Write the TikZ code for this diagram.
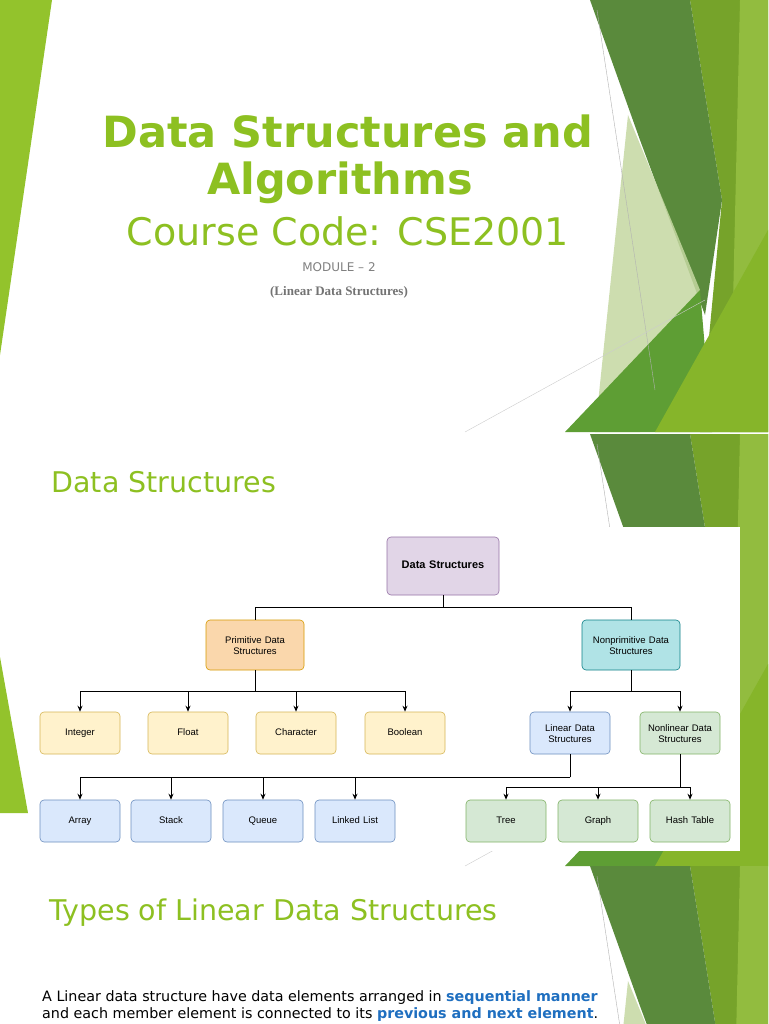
\documentclass[tikz,border=0pt]{standalone}
\usepackage{fontspec}
\setmainfont{DejaVu Sans}
\newfontfamily\boxfont{Liberation Sans}
\newfontfamily\serifb{Liberation Serif}
\usetikzlibrary{arrows.meta}
\definecolor{ttl}{HTML}{8DC021}
\definecolor{dkg}{HTML}{5A8A3C}
\definecolor{olv}{HTML}{76A32A}
\definecolor{lim}{HTML}{86B52A}
\definecolor{mdg}{HTML}{5E9E34}
\definecolor{lgt}{HTML}{C5D8A2}
\definecolor{bluet}{HTML}{1F6FC0}
\tikzset{
 bx/.style={draw=#1, rounded corners=4pt, line width=0.6pt, minimum height=42pt, text width=78pt, align=center, font=\boxfont\fontsize{9.5}{11}\selectfont, inner sep=1pt, execute at begin node=\strut},
 ds/.style={bx=#1, minimum height=58pt, text width=110pt},
 mid/.style={bx=#1, minimum height=50pt, text width=96pt},
 ln/.style={draw=black, line width=0.9pt},
 ar/.style={ln, -{Stealth[length=6pt,width=5pt]}},
}
\newcommand{\slidedeco}[1]{%
 \begin{scope}[shift={(0,#1)}]
  \clip (0,0) rectangle (768,432);
  \fill[olv] (690,0) -- (768,0) -- (768,432) -- (700,432) -- (722,200) -- cycle;
  \fill[lim!90!white] (740,0) -- (768,0) -- (768,432) -- (730,432) -- cycle;
  \fill[dkg] (590,0) -- (690,0) -- (722,200) -- (705,315) -- (640,140) -- cycle;
  \fill[lgt, opacity=0.85] (628,115) -- (700,290) -- (640,432) -- (595,432) -- cycle;
  \fill[mdg] (565,432) -- (700,290) -- (712,432) -- cycle;
  \fill[lim] (655,432) -- (768,230) -- (768,432) -- cycle;
  \draw[gray!60, line width=0.4pt] (597,10) -- (655,390);
  \draw[gray!40, line width=0.4pt] (465,432) -- (705,300);
 \end{scope}}
\begin{document}
\begin{tikzpicture}[x=1pt,y=-1pt]
\fill[white] (0,0) rectangle (768,1024);
\useasboundingbox (0,0) rectangle (768,1024);
\slidedeco{0}
\fill[ttl!95!white] (0,0) -- (52,0) -- (0,355) -- cycle;
\slidedeco{434}
\begin{scope}
\clip (0,866) rectangle (768,1024);
\slidedeco{866}
\end{scope}
% slide 1 text
\node[text=ttl, font=\bfseries\fontsize{43}{47}\selectfont] (t1) at (348,131) {Data Structures and};
\node[text=ttl, font=\bfseries\fontsize{43}{47}\selectfont] (t2) at (340,183) {Algorithms};
\node[text=ttl, font=\fontsize{38}{42}\selectfont] (t3) at (348,231) {Course Code: CSE2001};
\node[text=gray, font=\fontsize{12}{14}\selectfont] (t4) at (339,267) {MODULE – 2};
\node[text=gray!90!black, font=\serifb\bfseries\fontsize{13}{15}\selectfont] (t5) at (339,292) {(Linear Data Structures)};
% slide 2
\node[text=ttl, font=\fontsize{28.5}{32}\selectfont, anchor=west] (h2) at (48,482) {Data Structures};
\fill[white] (5,527) rectangle (740,851);
\fill[ttl!95!white] (0,657) -- (28,813) -- (0,813) -- cycle;
\definecolor{dsf}{HTML}{E1D5E7}\definecolor{dsd}{HTML}{9673A6}
\definecolor{prf}{HTML}{FAD7AC}\definecolor{prd}{HTML}{D79B00}
\definecolor{npf}{HTML}{B0E3E6}\definecolor{npd}{HTML}{0E8088}
\definecolor{yef}{HTML}{FFF2CC}\definecolor{yed}{HTML}{D6B656}
\definecolor{blf}{HTML}{DAE8FC}\definecolor{bld}{HTML}{6C8EBF}
\definecolor{grf}{HTML}{D5E8D4}\definecolor{grd}{HTML}{82B366}
\node[ds=dsd, fill=dsf, font=\boxfont\bfseries\fontsize{11}{12}\selectfont] (ds) at (443,566) {Data Structures};
\node[mid=prd, fill=prf] (pr) at (255,645) {Primitive Data\\Structures};
\node[mid=npd, fill=npf] (np) at (631,645) {Nonprimitive Data\\Structures};
\tikzset{yel/.style={bx=yed, fill=yef}, blu/.style={bx=bld, fill=blf}, grn/.style={bx=grd, fill=grf}}
\node[yel] (i) at (80,733) {Integer};
\node[yel] (f) at (188,733) {Float};
\node[yel] (c) at (296,733) {Character};
\node[yel] (b) at (405,733) {Boolean};
\node[blu] (l) at (570,733) {Linear Data\\Structures};
\node[grn] (nl) at (680,733) {Nonlinear Data\\Structures};
\node[blu] (a) at (80,821) {Array};
\node[blu] (s) at (171,821) {Stack};
\node[blu] (q) at (263,821) {Queue};
\node[blu] (ll) at (355,821) {Linked List};
\node[grn] (tr) at (506,821) {Tree};
\node[grn] (g) at (598,821) {Graph};
\node[grn] (h) at (690,821) {Hash Table};
\draw[ln] (ds.south) -- (443,607) -| (pr.north);
\draw[ln] (443,607) -| (np.north);
\draw[ln] (pr.south) -- (255,691);
\foreach \n in {i,f,c,b} \draw[ar] (255,691) -| (\n.north);
\draw[ln] (np.south) -- (631,691);
\foreach \n in {l,nl} \draw[ar] (631,691) -| (\n.north);
\draw[ln] (l.south) -- (570,777);
\foreach \n in {a,s,q,ll} \draw[ar] (570,777) -| (\n.north);
\draw[ln] (nl.south) -- (680,787);
\foreach \n in {tr,g,h} \draw[ar] (680,787) -| (\n.north);
% slide 3
\node[text=ttl, font=\fontsize{28.5}{32}\selectfont, anchor=west] (h3) at (46,913) {Types of Linear Data Structures};
\node[anchor=west, font=\fontsize{14.3}{17}\selectfont, inner sep=0] (p1) at (42,998) {A Linear data structure have data elements arranged in \textcolor{bluet}{\bfseries sequential manner}};
\node[anchor=west, font=\fontsize{14.3}{17}\selectfont, inner sep=0] (p2) at (42,1015) {and each member element is connected to its \textcolor{bluet}{\bfseries previous and next element}.};
\end{tikzpicture}
\end{document}
